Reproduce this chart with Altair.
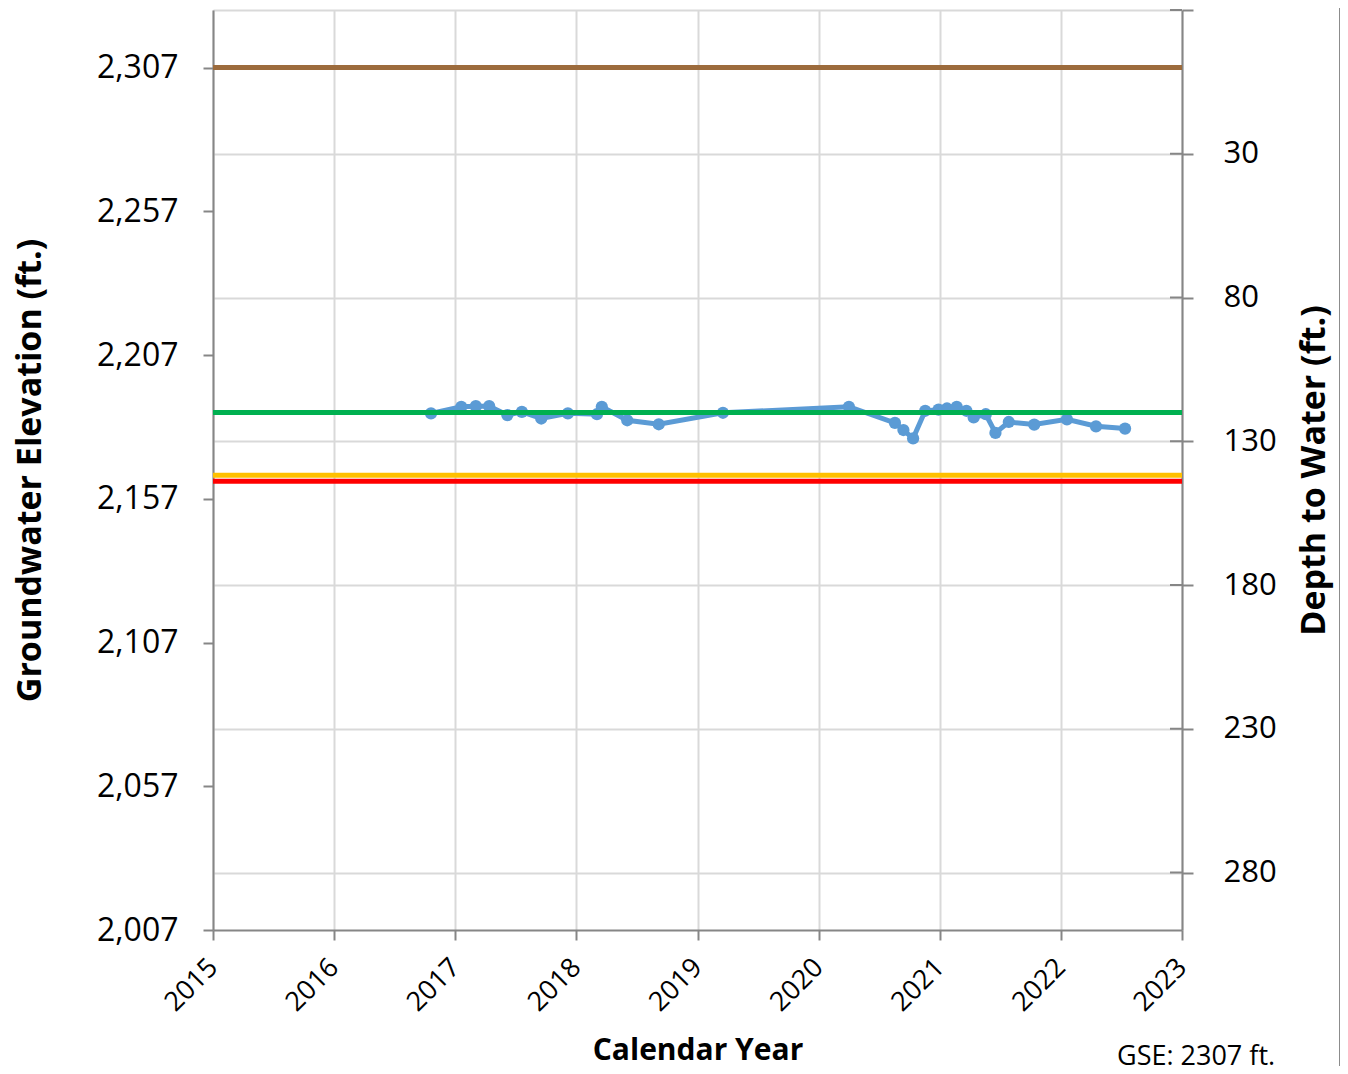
import altair as alt
import pandas as pd

# ---- data ----
years = [2016.80, 2017.05, 2017.17, 2017.28, 2017.43, 2017.55, 2017.71, 2017.93,
         2018.17, 2018.21, 2018.42, 2018.68, 2019.21, 2020.25, 2020.63, 2020.70,
         2020.78, 2020.88, 2020.99, 2021.06, 2021.14, 2021.22, 2021.28, 2021.38,
         2021.46, 2021.57, 2021.78, 2022.05, 2022.29, 2022.53]
elev = [2186.7, 2189.0, 2189.2, 2189.2, 2186.1, 2187.2, 2184.9, 2186.7,
        2186.4, 2189.0, 2184.3, 2182.9, 2186.9, 2189.0, 2183.4, 2180.9,
        2178.0, 2187.6, 2188.0, 2188.4, 2189.0, 2187.6, 2185.3, 2186.4,
        2179.9, 2183.7, 2182.8, 2184.6, 2182.2, 2181.4]

thr_names = ["GSE", "Measurable Objective", "Interim", "Minimum Threshold"]
thr_values = [2307, 2187, 2165.2, 2163.1]
thr_colors = ["#9c6b3c", "#00b050", "#ffc000", "#ff0000"]

x_ticks = [2015, 2016, 2017, 2018, 2019, 2020, 2021, 2022, 2023]
left_ticks = [2007, 2057, 2107, 2157, 2207, 2257, 2307]
right_ticks = [-20, 30, 80, 130, 180, 230, 280]

FONT = "Open Sans"
AX = "#868686"

df = pd.DataFrame({"year": years, "elev": elev})
thr = pd.DataFrame({"name": thr_names, "value": thr_values, "color": thr_colors})
depth_df = pd.DataFrame({"depth": right_ticks})

xenc = alt.X("year:Q",
             scale=alt.Scale(domain=[2015, 2023], nice=False, zero=False),
             axis=alt.Axis(values=x_ticks, format="d", labelAngle=-45, labelFontSize=27,
                           labelFont=FONT, labelColor="black", labelPadding=23,
                           labelAlign="right", labelBaseline="middle",
                           title="Calendar Year", titleFont=FONT, titleFontSize=30,
                           titleFontWeight="bold", titleColor="black", titlePadding=20,
                           grid=True, gridColor="#d9d9d9", gridWidth=2,
                           domainColor=AX, domainWidth=2, tickColor=AX, tickWidth=2,
                           tickSize=10))

yscale = alt.Scale(domain=[2007, 2327], nice=False, zero=False)
yaxis = alt.Axis(values=left_ticks, format=",d", labelFontSize=32, labelFont=FONT,
                 labelColor="black", labelPadding=25,
                 title="Groundwater Elevation (ft.)", titleFont=FONT, titleFontSize=34,
                 titleFontWeight="bold", titleColor="black", titlePadding=49,
                 grid=False, domainColor=AX, domainWidth=2, tickColor=AX, tickWidth=2,
                 tickSize=10)

line = alt.Chart(df).mark_line(color="#5b9bd5", strokeWidth=5).encode(
    x=xenc, y=alt.Y("elev:Q", scale=yscale, axis=yaxis))
pts = alt.Chart(df).mark_circle(color="#5b9bd5", size=150, opacity=1).encode(
    x="year:Q", y="elev:Q")

rules = alt.Chart(thr).mark_rule(strokeWidth=5).encode(
    y="value:Q",
    color=alt.Color("color:N", scale=None, legend=None))

gse = alt.Chart(pd.DataFrame({"t": ["GSE: 2307 ft."]})).mark_text(
    align="left", baseline="middle", fontSize=27, font=FONT, color="black").encode(
    text="t:N", x=alt.value(904), y=alt.value(1047))

frame = alt.Chart(pd.DataFrame({"a": [0]})).mark_rule(color="#8c8c8c", strokeWidth=2).encode(
    x=alt.value(1127), y=alt.value(-10), y2=alt.value(1070))

left = alt.layer(line, pts, rules, gse, frame)

right = alt.Chart(depth_df).mark_rule(color=AX, strokeWidth=2).encode(
    x=alt.value(957), x2=alt.value(969),
    y=alt.Y("depth:Q",
            scale=alt.Scale(domain=[-20, 300], reverse=True, nice=False, zero=False),
            axis=alt.Axis(orient="right", values=right_ticks,
                          labelExpr="datum.value < 0 ? '' : datum.label",
                          labelFontSize=31, labelFont=FONT, labelColor="black",
                          labelPadding=30,
                          title="Depth to Water (ft.)", titleFont=FONT, titleFontSize=34,
                          titleFontWeight="bold", titleColor="black", titlePadding=21,
                          titleAngle=270, titleBaseline="top",
                          grid=True, gridColor="#d9d9d9", gridWidth=2,
                          domainColor=AX, domainWidth=2, tickColor=AX, tickWidth=2,
                          tickSize=11)))

chart = alt.layer(left, right).resolve_scale(y="independent").properties(
    width=969, height=920,
    autosize=alt.AutoSizeParams(type="none"),
    padding={"left": 205, "top": 2, "right": 158, "bottom": 136},
).configure_view(strokeWidth=0)

chart.save("out.html", embed_options={"renderer": "svg", "actions": False})
